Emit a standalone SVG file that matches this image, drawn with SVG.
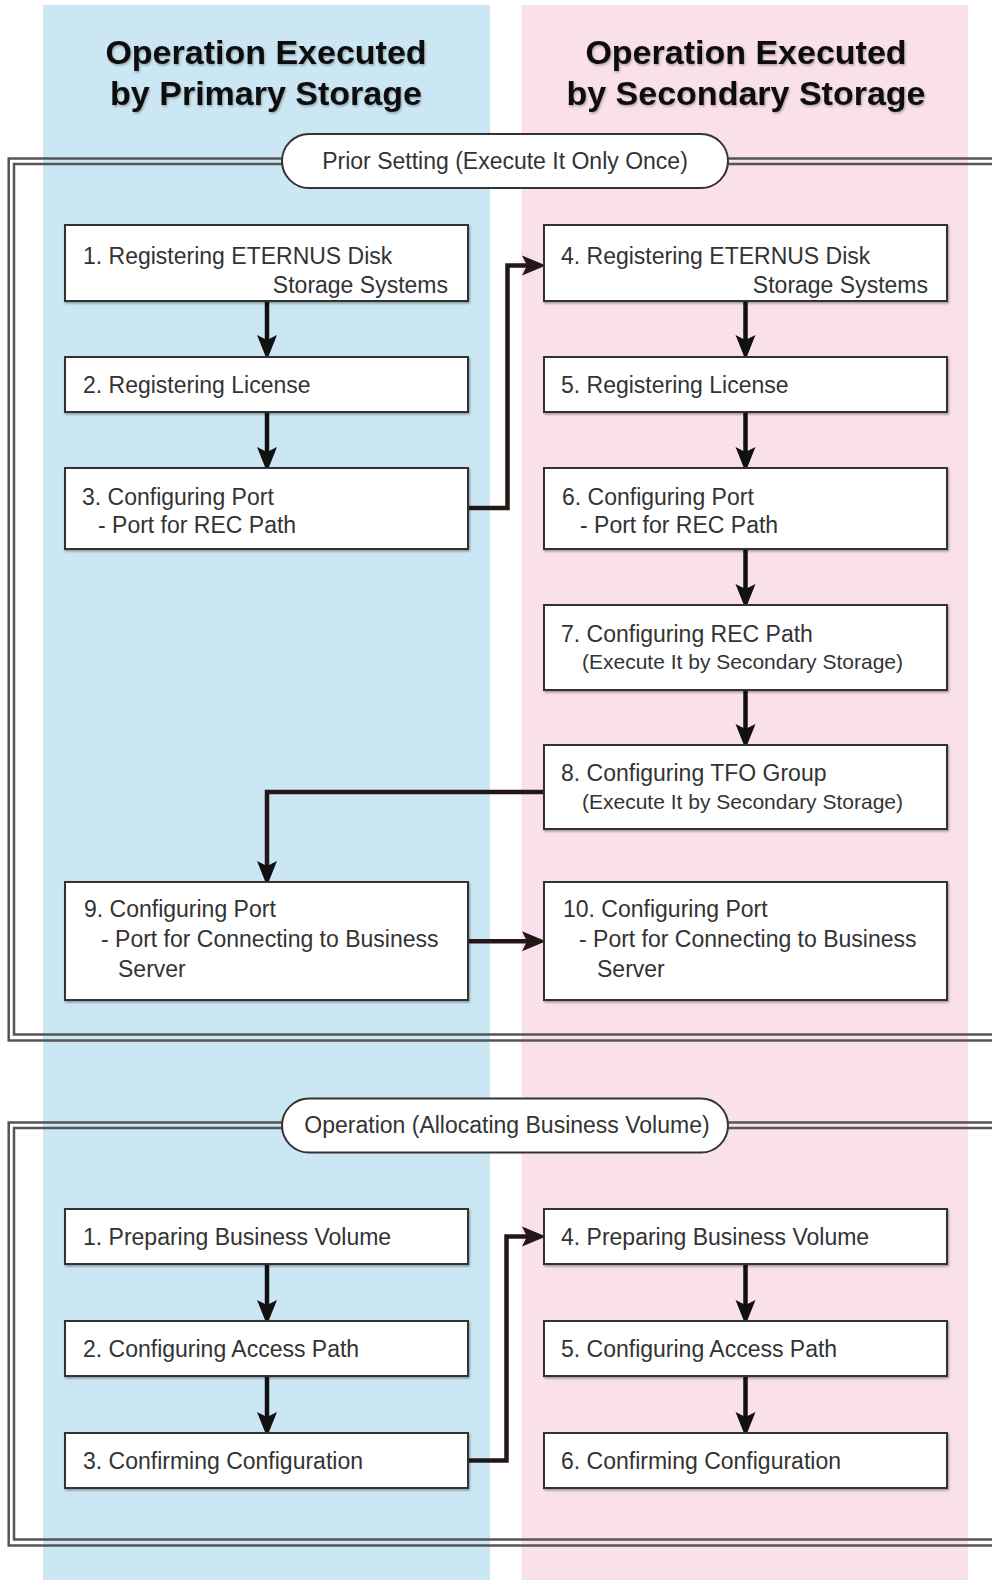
<svg xmlns="http://www.w3.org/2000/svg" width="992" height="1580" viewBox="0 0 992 1580">
  <style>
    .lane-blue { fill: #cbe7f3; }
    .lane-pink { fill: #f9e0ea; }
    .title { font-family: "Liberation Sans", Arial, sans-serif; font-weight: bold; font-size: 34px; fill: #111; text-anchor: middle; }
    .frame { fill: none; stroke: #555; stroke-width: 2.5; }
    .pill { fill: #fff; stroke: #333; stroke-width: 2; }
    .pill-text { font-family: "Liberation Sans", Arial, sans-serif; font-size: 23px; fill: #333; text-anchor: middle; }
    .box { fill: #fff; stroke: #333; stroke-width: 2; }
    .t { font-family: "Liberation Sans", Arial, sans-serif; font-size: 23px; fill: #333; }
    .ts { font-family: "Liberation Sans", Arial, sans-serif; font-size: 21px; fill: #333; }
    .end { text-anchor: end; }
    .conn { fill: none; stroke: #231815; stroke-width: 4.5; }
    .vconn { fill: none; stroke: #111; stroke-width: 4.5; }
  </style>
  <defs>
    <filter id="shadow" x="-5%" y="-5%" width="110%" height="120%">
      <feDropShadow dx="1" dy="1.5" stdDeviation="1" flood-color="#000" flood-opacity="0.35"/>
    </filter>
    <filter id="tshadow" x="-5%" y="-20%" width="110%" height="140%">
      <feDropShadow dx="1" dy="1.5" stdDeviation="1" flood-color="#000" flood-opacity="0.3"/>
    </filter>
    <marker id="ah" markerUnits="userSpaceOnUse" markerWidth="30" markerHeight="24" viewBox="0 -12 30 24" refX="8" refY="0" orient="auto" overflow="visible">
      <path d="M0,-10 L24,0 L0,10 L5,0 Z" fill="#231815"/>
    </marker>
    <marker id="ahv" markerUnits="userSpaceOnUse" markerWidth="30" markerHeight="24" viewBox="0 -12 30 24" refX="8" refY="0" orient="auto" overflow="visible">
      <path d="M0,-10 L25,0 L0,10 L5,0 Z" fill="#111"/>
    </marker>
  </defs>

  <!-- Lanes -->
  <rect class="lane-blue" x="43" y="5" width="447" height="1575"/>
  <rect class="lane-pink" x="521.5" y="5" width="446.5" height="1575"/>

  <g id="title-primary" filter="url(#tshadow)">
    <text class="title" x="266" y="64">Operation Executed</text>
    <text class="title" x="266" y="105">by Primary Storage</text>
  </g>
  <g id="title-secondary" filter="url(#tshadow)">
    <text class="title" x="746" y="64">Operation Executed</text>
    <text class="title" x="746" y="105">by Secondary Storage</text>
  </g>

  <!-- Frames -->
  <g id="frame-prior">
    <path class="frame" d="M992,158.5 H8.7 V1040.5 H992"/>
    <path class="frame" d="M992,164 H14 V1034.5 H992"/>
  </g>
  <g id="frame-operation">
    <path class="frame" d="M992,1122.5 H8.7 V1545.5 H992"/>
    <path class="frame" d="M992,1128 H14 V1539.5 H992"/>
  </g>

  <g id="pill-prior">
    <rect class="pill" x="282" y="134" width="446" height="54" rx="27"/>
    <text class="pill-text" x="505" y="169">Prior Setting (Execute It Only Once)</text>
  </g>
  <g id="pill-operation">
    <rect class="pill" x="282" y="1098.5" width="446" height="54" rx="27"/>
    <text class="pill-text" x="507" y="1133">Operation (Allocating Business Volume)</text>
  </g>

  <!-- Connectors -->
  <g id="connectors">
    <path class="vconn" d="M267,301 V343" marker-end="url(#ahv)"/>
    <path class="vconn" d="M267,412 V455" marker-end="url(#ahv)"/>
    <path class="vconn" d="M745.5,301 V343" marker-end="url(#ahv)"/>
    <path class="vconn" d="M745.5,412 V455" marker-end="url(#ahv)"/>
    <path class="vconn" d="M745.5,549 V592" marker-end="url(#ahv)"/>
    <path class="vconn" d="M745.5,690 V732" marker-end="url(#ahv)"/>
    <path class="conn" d="M468,508 H507.5 V265.5 H530" marker-end="url(#ah)"/>
    <path class="conn" d="M544,792 H267 V869" marker-end="url(#ahv)"/>
    <path class="conn" d="M468,941.3 H530" marker-end="url(#ah)"/>
    <path class="vconn" d="M267,1264 V1308" marker-end="url(#ahv)"/>
    <path class="vconn" d="M267,1376 V1420" marker-end="url(#ahv)"/>
    <path class="vconn" d="M745.5,1264 V1308" marker-end="url(#ahv)"/>
    <path class="vconn" d="M745.5,1376 V1420" marker-end="url(#ahv)"/>
    <path class="conn" d="M468,1460.5 H506.5 V1236.5 H530" marker-end="url(#ah)"/>
  </g>

  <!-- Prior setting nodes -->
  <g id="p1">
    <rect class="box" x="65" y="225" width="403" height="76" filter="url(#shadow)"/>
    <text class="t" x="83" y="264">1. Registering ETERNUS Disk</text>
    <text class="t end" x="448" y="293">Storage Systems</text>
  </g>
  <g id="p2">
    <rect class="box" x="65" y="357" width="403" height="55" filter="url(#shadow)"/>
    <text class="t" x="83" y="393">2. Registering License</text>
  </g>
  <g id="p3">
    <rect class="box" x="65" y="468" width="403" height="81" filter="url(#shadow)"/>
    <text class="t" x="82" y="505">3. Configuring Port</text>
    <text class="t" x="98" y="533">- Port for REC Path</text>
  </g>
  <g id="p4">
    <rect class="box" x="544" y="225" width="403" height="76" filter="url(#shadow)"/>
    <text class="t" x="561" y="264">4. Registering ETERNUS Disk</text>
    <text class="t end" x="928" y="293">Storage Systems</text>
  </g>
  <g id="p5">
    <rect class="box" x="544" y="357" width="403" height="55" filter="url(#shadow)"/>
    <text class="t" x="561" y="393">5. Registering License</text>
  </g>
  <g id="p6">
    <rect class="box" x="544" y="468" width="403" height="81" filter="url(#shadow)"/>
    <text class="t" x="562" y="505">6. Configuring Port</text>
    <text class="t" x="580" y="533">- Port for REC Path</text>
  </g>
  <g id="p7">
    <rect class="box" x="544" y="605" width="403" height="85" filter="url(#shadow)"/>
    <text class="t" x="561" y="642">7. Configuring REC Path</text>
    <text class="ts" x="582" y="669">(Execute It by Secondary Storage)</text>
  </g>
  <g id="p8">
    <rect class="box" x="544" y="745" width="403" height="84" filter="url(#shadow)"/>
    <text class="t" x="561" y="781">8. Configuring TFO Group</text>
    <text class="ts" x="582" y="809">(Execute It by Secondary Storage)</text>
  </g>
  <g id="p9">
    <rect class="box" x="65" y="882" width="403" height="118" filter="url(#shadow)"/>
    <text class="t" x="84" y="917">9. Configuring Port</text>
    <text class="t" x="101" y="947">- Port for Connecting to Business</text>
    <text class="t" x="118" y="977">Server</text>
  </g>
  <g id="p10">
    <rect class="box" x="544" y="882" width="403" height="118" filter="url(#shadow)"/>
    <text class="t" x="563" y="917">10. Configuring Port</text>
    <text class="t" x="579" y="947">- Port for Connecting to Business</text>
    <text class="t" x="597" y="977">Server</text>
  </g>

  <!-- Operation nodes -->
  <g id="o1">
    <rect class="box" x="65" y="1209" width="403" height="55" filter="url(#shadow)"/>
    <text class="t" x="83" y="1245">1. Preparing Business Volume</text>
  </g>
  <g id="o2">
    <rect class="box" x="65" y="1321" width="403" height="55" filter="url(#shadow)"/>
    <text class="t" x="83" y="1357">2. Configuring Access Path</text>
  </g>
  <g id="o3">
    <rect class="box" x="65" y="1433" width="403" height="55" filter="url(#shadow)"/>
    <text class="t" x="83" y="1469">3. Confirming Configuration</text>
  </g>
  <g id="o4">
    <rect class="box" x="544" y="1209" width="403" height="55" filter="url(#shadow)"/>
    <text class="t" x="561" y="1245">4. Preparing Business Volume</text>
  </g>
  <g id="o5">
    <rect class="box" x="544" y="1321" width="403" height="55" filter="url(#shadow)"/>
    <text class="t" x="561" y="1357">5. Configuring Access Path</text>
  </g>
  <g id="o6">
    <rect class="box" x="544" y="1433" width="403" height="55" filter="url(#shadow)"/>
    <text class="t" x="561" y="1469">6. Confirming Configuration</text>
  </g>
</svg>
